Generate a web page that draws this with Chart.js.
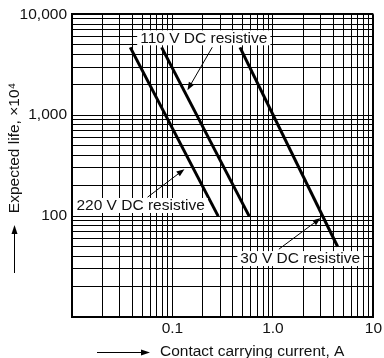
<!DOCTYPE html>
<html>
<head>
<meta charset="utf-8">
<script src="https://cdn.jsdelivr.net/npm/chart.js@4/dist/chart.umd.min.js"></script>
<style>
html,body{margin:0;padding:0;background:#fff;}
canvas{display:block;}
</style>
</head>
<body>
<canvas id="c" width="384" height="358"></canvas>
<script>
// ---- data ----
const current220 = [0.038, 0.285];
const life220    = [4700, 100];
const current110 = [0.078, 0.58];
const life110    = [4700, 100];
const current30  = [0.47, 4.4];
const life30     = [4700, 50];

const xTickValues = [0.1, 1, 10];
const xTickLabels = ['0.1', '1.0', '10'];
const yTickValues = [100, 1000, 10000];
const yTickLabels = ['100', '1,000', '10,000'];

const xTitle = 'Contact carrying current, A';
const yTitle = 'Expected life, \u00d710\u2074';

// annotation labels (text centre, arrow tail, arrow tip) in data units
const notes = [
  {text: '110 V DC resistive', cx: 0.205, cy: 5780, ax: 0.249, ay: 4710, tx: 0.141, ty: 1770},
  {text: '220 V DC resistive', cx: 0.0482, cy: 126, ax: 0.0565, ay: 154, tx: 0.1315, ty: 292},
  {text: '30 V DC resistive',  cx: 1.87, cy: 37.5, ax: 1.146, ay: 47, tx: 2.985, ty: 95.5}
];

const FONT = '"Liberation Sans", Arial, Helvetica, sans-serif';
const FS = 15.5;
const TXT = '#111';

function pts(xs, ys){ return xs.map((x,i)=>({x:x, y:ys[i]})); }
function logTicks(lo, hi){
  const out = [];
  for (let e = lo; e < hi; e++) for (let m = 1; m <= 9; m++) out.push(m * Math.pow(10, e));
  out.push(Math.pow(10, hi));
  return out;
}
function near(a, b){ return Math.abs(Math.log10(a) - Math.log10(b)) < 1e-6; }
function labelFor(v, vals, labs){
  for (let i = 0; i < vals.length; i++) if (near(v, vals[i])) return labs[i];
  return '';
}

function arrow(ctx, x1, y1, x2, y2, len, half){
  const ang = Math.atan2(y2 - y1, x2 - x1);
  ctx.beginPath();
  ctx.moveTo(x1, y1);
  ctx.lineTo(x2 - Math.cos(ang) * len * 0.8, y2 - Math.sin(ang) * len * 0.8);
  ctx.stroke();
  ctx.beginPath();
  ctx.moveTo(x2, y2);
  ctx.lineTo(x2 - Math.cos(ang) * len - Math.sin(ang) * half, y2 - Math.sin(ang) * len + Math.cos(ang) * half);
  ctx.lineTo(x2 - Math.cos(ang) * len + Math.sin(ang) * half, y2 - Math.sin(ang) * len - Math.cos(ang) * half);
  ctx.closePath();
  ctx.fill();
}

const decor = {
  id: 'decor',
  afterDatasetsDraw(chart){
    const ctx = chart.ctx, xs = chart.scales.x, ys = chart.scales.y;
    ctx.save();
    ctx.font = FS + 'px ' + FONT;
    ctx.textBaseline = 'middle';
    ctx.textAlign = 'center';
    notes.forEach(n => {
      const cx = xs.getPixelForValue(n.cx), cy = ys.getPixelForValue(n.cy);
      const w = ctx.measureText(n.text).width;
      ctx.fillStyle = '#fff';
      ctx.fillRect(cx - w/2 - 3, cy - 8, w + 6, 15);
      ctx.fillStyle = TXT;
      ctx.fillText(n.text, cx, cy);
      ctx.strokeStyle = '#000';
      ctx.fillStyle = '#000';
      ctx.lineWidth = 1;
      arrow(ctx, xs.getPixelForValue(n.ax), ys.getPixelForValue(n.ay),
                 xs.getPixelForValue(n.tx), ys.getPixelForValue(n.ty), 8, 3);
    });
    ctx.restore();
  },
  afterDraw(chart){
    const ctx = chart.ctx;
    ctx.save();
    ctx.font = FS + 'px ' + FONT;
    ctx.fillStyle = TXT;
    ctx.strokeStyle = '#000';
    ctx.lineWidth = 1;
    // x title + arrow
    ctx.textBaseline = 'middle';
    ctx.textAlign = 'left';
    ctx.fillText(xTitle, 160, 352);
    ctx.fillStyle = '#000';
    arrow(ctx, 97, 352.5, 150, 352.5, 9, 3);
    // y title + arrow
    ctx.fillStyle = TXT;
    ctx.translate(15, 148);
    ctx.rotate(-Math.PI/2);
    ctx.textAlign = 'center';
    ctx.fillText(yTitle, 0, 0);
    ctx.restore();
    ctx.save();
    ctx.strokeStyle = '#000';
    ctx.fillStyle = '#000';
    ctx.lineWidth = 1;
    arrow(ctx, 14.5, 273, 14.5, 225, 9, 3);
    ctx.restore();
  }
};

Chart.defaults.font.family = FONT;
Chart.defaults.font.size = FS;
Chart.defaults.color = TXT;

const lineStyle = {borderColor: '#000', backgroundColor: '#000', borderWidth: 3, pointRadius: 0, showLine: true, borderCapStyle: 'butt'};

new Chart(document.getElementById('c'), {
  type: 'scatter',
  data: {
    datasets: [
      Object.assign({label: '220 V DC resistive', data: pts(current220, life220)}, lineStyle),
      Object.assign({label: '110 V DC resistive', data: pts(current110, life110)}, lineStyle),
      Object.assign({label: '30 V DC resistive',  data: pts(current30,  life30)},  lineStyle)
    ]
  },
  options: {
    responsive: false,
    devicePixelRatio: 1,
    animation: false,
    layout: {padding: {left: 0, right: 10, top: 14, bottom: 0}},
    plugins: {legend: {display: false}, tooltip: {enabled: false}},
    scales: {
      x: {
        type: 'logarithmic', min: 0.01, max: 10,
        afterBuildTicks: s => { s.ticks = logTicks(-2, 1).map(v => ({value: v})); },
        afterFit: s => { s.height = 41; },
        ticks: {autoSkip: false, maxRotation: 0, padding: 2,
                callback: v => labelFor(v, xTickValues, xTickLabels)},
        grid: {color: '#000', drawTicks: false,
               lineWidth: c => (c.tick && near(c.tick.value, 10)) ? 2 : 1},
        border: {color: '#000', width: 2}
      },
      y: {
        type: 'logarithmic', min: 10, max: 10000,
        afterBuildTicks: s => { s.ticks = logTicks(1, 4).map(v => ({value: v})); },
        afterFit: s => { s.width = 72; },
        ticks: {autoSkip: false, padding: 5,
                callback: v => labelFor(v, yTickValues, yTickLabels)},
        grid: {color: '#000', drawTicks: false,
               lineWidth: c => (c.tick && near(c.tick.value, 10000)) ? 2 : 1},
        border: {color: '#000', width: 2}
      }
    }
  },
  plugins: [decor]
});
</script>
</body>
</html>
